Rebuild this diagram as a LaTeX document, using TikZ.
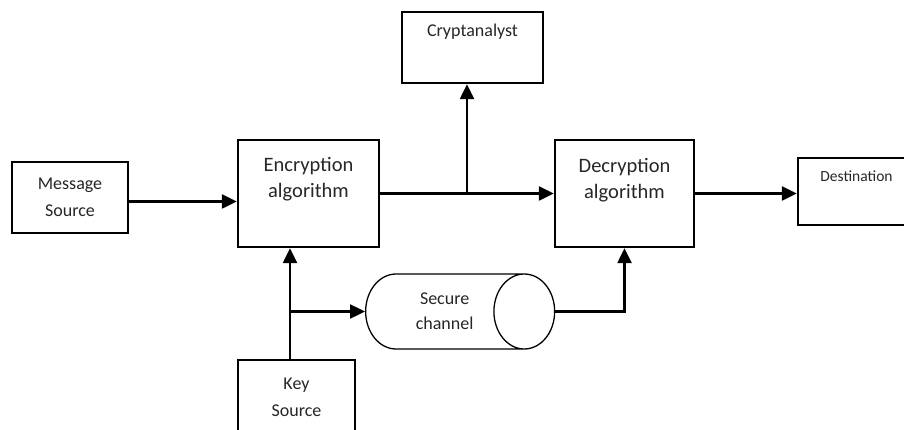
\documentclass[tikz,border=0pt]{standalone}
\usepackage{fontspec}
\setmainfont{Carlito}
\usepackage{tikz}
\usetikzlibrary{shapes.geometric, arrows.meta, positioning, calc}

\begin{document}
\begin{tikzpicture}[
    x=1pt, y=-1pt,
    block/.style={rectangle, draw, line width=2.4pt, inner sep=0pt, align=center, text=black!85, font=\fontsize{18}{27}\selectfont},
    channel/.style={cylinder, draw, line width=1.3pt, aspect=1.65, minimum width=75pt, minimum height=189pt, inner sep=0pt, align=center, text=black!85, font=\fontsize{18}{25}\selectfont},
    toptext/.style={anchor=center, align=center, text=black!85, font=\fontsize{18}{26}\selectfont},
    arrow/.style={-{Triangle[length=15pt, width=14pt]}, line width=2.4pt}
]
    \useasboundingbox (0,0) rectangle (904,430);
    \clip (0,0) rectangle (904,430);

    % Top row
    \node[block, minimum width=141pt, minimum height=71pt,
        label={[toptext, yshift=-21pt]north:Cryptanalyst}] (crypt) at (472.5,47.5) {};

    % Middle row
    \node[block, minimum width=116pt, minimum height=71pt] (msg) at (70,197.5) {Message\\Source};
    \node[block, minimum width=141pt, minimum height=107pt,
        label={[toptext, yshift=-40pt, font=\fontsize{20.5}{26}\selectfont]north:Encryption\\algorithm}] (enc) at (308.5,193.5) {};
    \node[block, minimum width=139pt, minimum height=107pt,
        label={[toptext, yshift=-41pt, font=\fontsize{20.5}{26}\selectfont]north:Decryption\\algorithm}] (dec) at (624.5,193.5) {};
    \node[block, minimum width=117pt, minimum height=67pt,
        label={[toptext, yshift=-19pt, font=\fontsize{15.5}{20}\selectfont]north:Destination}] (dest) at (856.5,191.5) {};

    % Bottom row
    \node[channel, anchor=west] (chan) at (365,311.5) {Secure\\channel};
    \node[block, minimum width=117pt, minimum height=74pt] (key) at (296.5,397) {Key\\Source};

    % Branch points
    \coordinate (tap) at ($(enc.east)!0.5!(dec.west)$);
    \coordinate (ktap) at (290,311.5);

    % Arrows
    \draw[arrow] ([yshift=-4pt]msg.east) -- ([yshift=-4pt]msg.east -| enc.west);
    \draw[arrow] (enc.east) -- (dec.west);
    \draw[arrow] (tap) -- (tap |- crypt.south);
    \draw[arrow] (dec.east) -- (dec.east -| dest.west);
    \draw[arrow] (ktap |- key.north) -- (ktap |- enc.south);
    \draw[arrow] (ktap) -- (ktap -| chan.west);
    \draw[arrow] (chan.east) -| (dec.south);
\end{tikzpicture}
\end{document}
